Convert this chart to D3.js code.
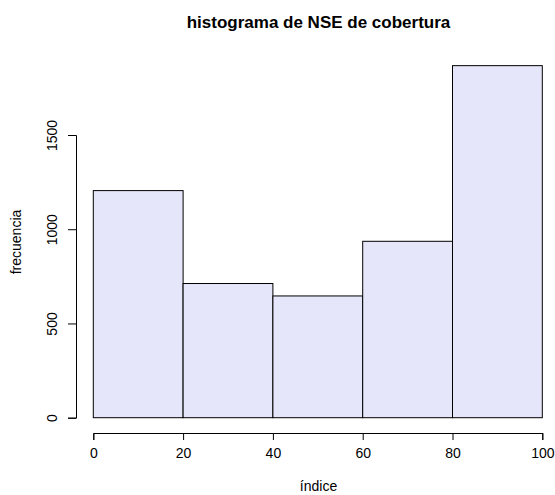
<!DOCTYPE html>
<html><head><meta charset="utf-8">
<script src="https://cdn.jsdelivr.net/npm/d3@7"></script>
<style>body{margin:0;background:#fff}svg{display:block}text{font-family:"Liberation Sans",Arial,sans-serif;fill:#000}</style>
</head><body>
<script>
const binStarts = [0, 20, 40, 60, 80];
const binEnds = [20, 40, 60, 80, 100];
const counts = [1205, 712, 646, 936, 1868];
const xTicks = [0, 20, 40, 60, 80, 100];
const yTicks = [0, 500, 1000, 1500];

const W = 555, H = 495;
const svg = d3.select("body").append("svg").attr("width", W).attr("height", H);
const x = d3.scaleLinear().domain([0, 100]).range([93.3, 542.3]);
const y = d3.scaleLinear().domain([0, 1500]).range([417.7, 135]);

svg.selectAll("rect.bar").data(counts).enter().append("rect")
  .attr("x", (d, i) => x(binStarts[i]))
  .attr("y", d => y(d))
  .attr("width", (d, i) => x(binEnds[i]) - x(binStarts[i]))
  .attr("height", d => y(0) - y(d))
  .attr("fill", "#E6E6FA").attr("stroke", "#000").attr("stroke-width", 1);

const xAxis = svg.append("g").attr("transform", "translate(0,433)")
  .call(d3.axisBottom(x).tickValues(xTicks).tickSize(7).tickFormat(d3.format("d")));
const yAxis = svg.append("g").attr("transform", "translate(76,0)")
  .call(d3.axisLeft(y).tickValues(yTicks).tickSize(8).tickFormat(d3.format("d")));
[xAxis, yAxis].forEach(g => {
  g.select(".domain").attr("stroke", "#000");
  g.selectAll(".tick line").attr("stroke", "#000");
  g.selectAll("text").style("font-size", "14px").attr("fill", "#000");
});
xAxis.selectAll(".tick text").attr("dy", null).attr("y", 20).attr("dominant-baseline", "central");
yAxis.selectAll(".tick text")
  .attr("x", null).attr("dy", null)
  .attr("transform", "translate(-24,0) rotate(-90)")
  .attr("text-anchor", "middle").attr("dominant-baseline", "central");

svg.append("text").attr("x", 318.5).attr("y", 28).attr("text-anchor", "middle")
  .style("font-size", "17px").style("font-weight", "bold").text("histograma de NSE de cobertura");
svg.append("text").attr("x", 318.5).attr("y", 491).attr("text-anchor", "middle")
  .style("font-size", "14px").text("índice");
svg.append("text").attr("transform", "translate(21,242) rotate(-90)").attr("text-anchor", "middle")
  .style("font-size", "14px").text("frecuencia");
</script>
</body></html>
